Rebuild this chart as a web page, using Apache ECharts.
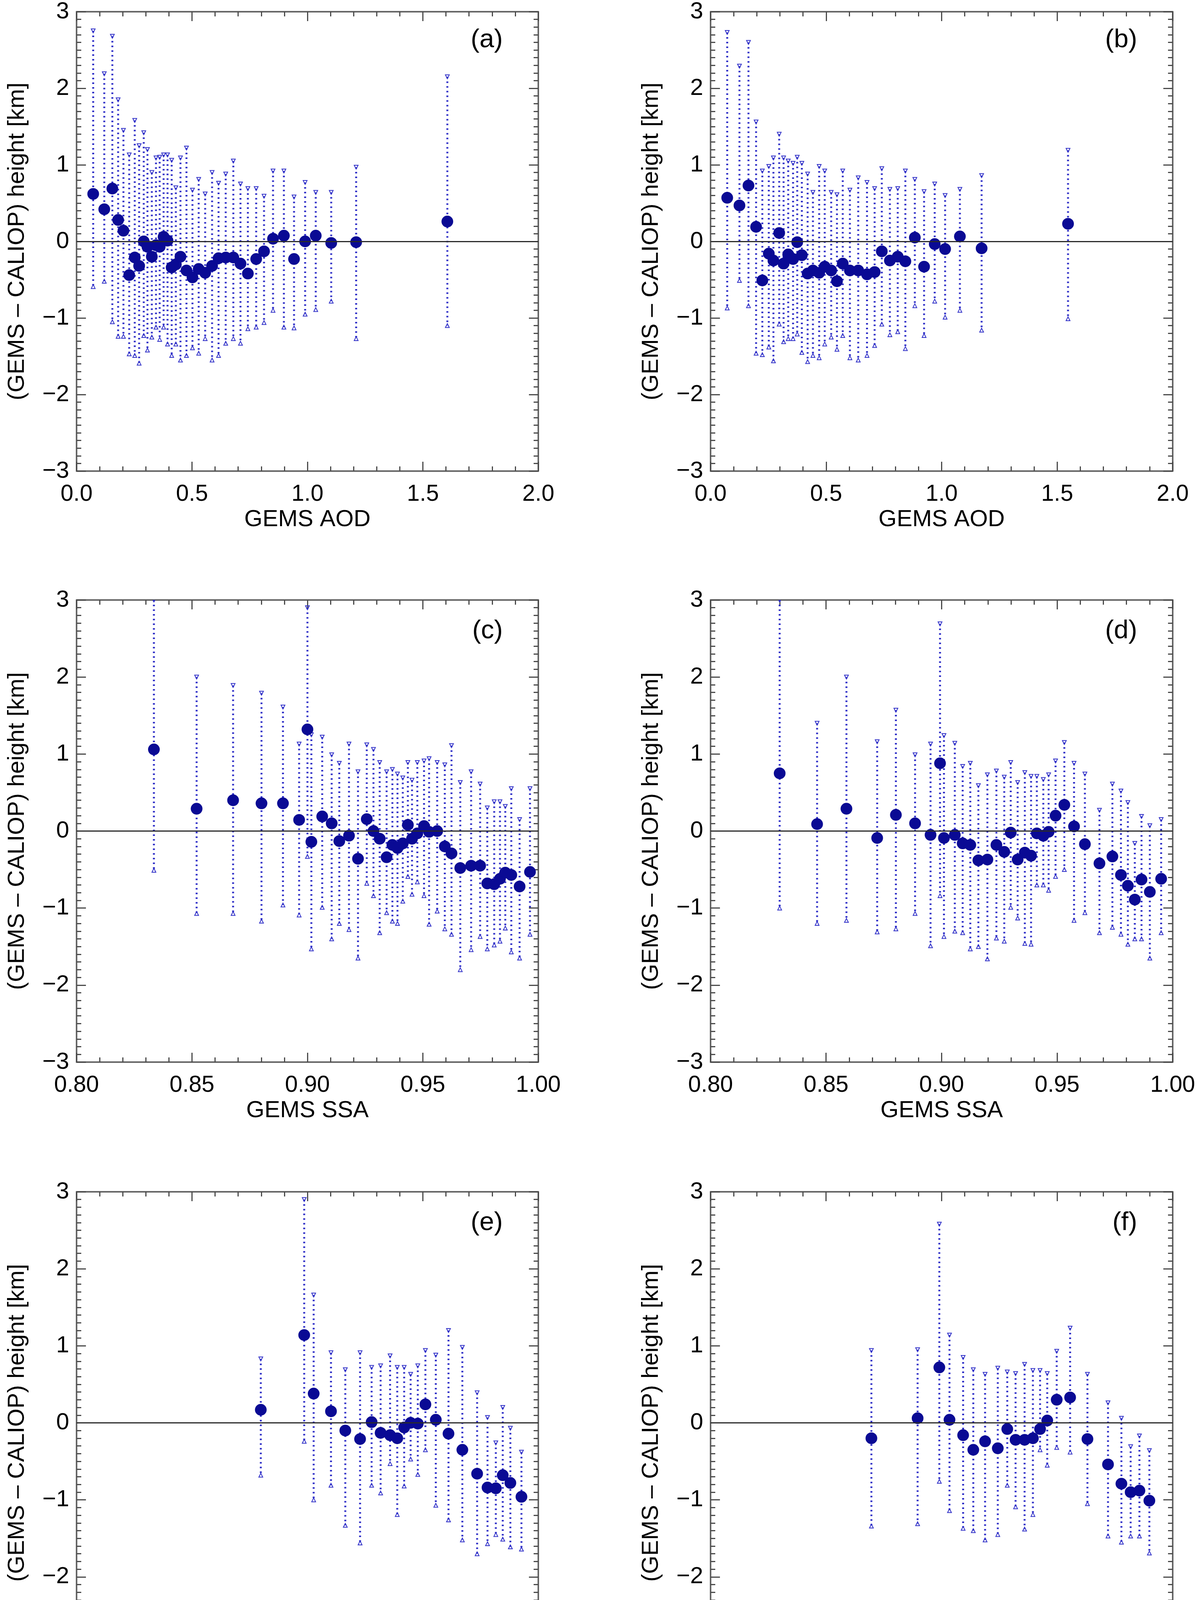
<!DOCTYPE html>
<html>
<head>
<meta charset="utf-8">
<script src="https://cdn.jsdelivr.net/npm/echarts@6/dist/echarts.min.js"></script>
<style>
html,body{margin:0;padding:0;background:#fff;}
#chart{width:3077px;height:4403px;}
</style>
</head>
<body>
<div id="chart"></div>
<script>
// ---------------- DATA ----------------
// Panel (a): GEMS AOD
var aodA_x    = [0.072,0.12,0.155,0.18,0.203,0.228,0.252,0.271,0.291,0.307,0.326,0.344,0.36,0.377,0.394,0.412,0.43,0.45,0.476,0.502,0.529,0.557,0.587,0.615,0.646,0.679,0.71,0.742,0.778,0.812,0.851,0.898,0.942,0.99,1.036,1.103,1.211,1.606];
var aodA_mean = [0.62,0.42,0.69,0.28,0.14,-0.44,-0.21,-0.32,0.0,-0.07,-0.2,-0.05,-0.07,0.06,0.01,-0.34,-0.3,-0.2,-0.38,-0.47,-0.36,-0.41,-0.32,-0.22,-0.21,-0.21,-0.29,-0.42,-0.23,-0.13,0.035,0.075,-0.23,0.0,0.075,-0.02,-0.01,0.26];
var aodA_hi   = [2.75,2.19,2.68,1.85,1.45,1.13,1.58,1.25,1.42,1.2,0.9,1.09,1.1,1.13,1.13,1.06,0.7,1.09,1.22,0.67,0.81,0.62,0.9,0.76,0.88,1.05,0.75,0.69,0.69,0.59,0.92,0.92,0.58,0.77,0.64,0.64,0.97,2.15];
var aodA_lo   = [-0.59,-0.52,-1.05,-1.24,-1.24,-1.47,-1.49,-1.59,-1.23,-1.42,-1.25,-1.12,-1.28,-1.12,-1.34,-1.49,-1.34,-1.55,-1.49,-1.39,-1.46,-1.27,-1.55,-1.49,-1.33,-1.27,-1.33,-1.14,-1.12,-1.06,-0.9,-1.12,-1.13,-0.95,-0.89,-0.78,-1.27,-1.1];

// Panel (b): GEMS AOD
var aodB_x    = [0.072,0.125,0.164,0.197,0.224,0.252,0.272,0.297,0.316,0.336,0.357,0.375,0.395,0.42,0.443,0.47,0.494,0.522,0.547,0.572,0.603,0.639,0.677,0.71,0.741,0.776,0.81,0.843,0.884,0.924,0.97,1.015,1.079,1.173,1.547];
var aodB_mean = [0.57,0.47,0.73,0.19,-0.51,-0.16,-0.25,0.11,-0.29,-0.17,-0.23,-0.01,-0.18,-0.42,-0.38,-0.41,-0.33,-0.38,-0.52,-0.29,-0.38,-0.38,-0.43,-0.4,-0.13,-0.25,-0.2,-0.26,0.05,-0.33,-0.035,-0.1,0.065,-0.09,0.23];
var aodB_hi   = [2.73,2.29,2.6,1.56,0.92,0.98,1.09,1.4,1.09,1.05,1.02,1.1,1.02,0.88,0.64,0.98,0.92,0.64,0.61,0.92,0.67,0.83,0.77,0.69,0.95,0.68,0.69,0.92,0.81,0.65,0.75,0.6,0.68,0.86,1.19];
var aodB_lo   = [-0.87,-0.51,-0.84,-1.46,-1.48,-1.38,-1.56,-1.08,-1.31,-1.27,-1.27,-1.21,-1.45,-1.57,-1.49,-1.52,-1.34,-1.25,-1.41,-1.23,-1.52,-1.55,-1.49,-1.36,-1.08,-1.22,-1.18,-1.4,-0.84,-1.23,-0.78,-0.99,-0.9,-1.16,-1.01];

// Panel (c): GEMS SSA
var ssaC_x    = [0.8335,0.852,0.8678,0.8801,0.8894,0.8964,0.9,0.9017,0.9064,0.9105,0.9138,0.918,0.9219,0.9257,0.9286,0.9313,0.9343,0.9368,0.939,0.9413,0.9435,0.9453,0.9476,0.9505,0.9527,0.9562,0.9595,0.9624,0.9662,0.9709,0.9748,0.9779,0.9809,0.9834,0.9857,0.9883,0.9919,0.9964];
var ssaC_mean = [1.06,0.29,0.40,0.36,0.36,0.145,1.32,-0.14,0.19,0.1,-0.13,-0.06,-0.36,0.155,0.0,-0.1,-0.34,-0.18,-0.22,-0.16,0.08,-0.1,-0.03,0.065,-0.01,0.0,-0.2,-0.29,-0.48,-0.45,-0.45,-0.68,-0.69,-0.62,-0.54,-0.57,-0.72,-0.53];
var ssaC_hi   = [3.0,2.0,1.89,1.79,1.61,1.13,2.9,1.25,1.22,0.99,0.88,1.13,0.77,1.12,1.06,0.89,0.77,0.8,0.74,0.69,0.89,0.66,0.89,0.91,0.94,0.89,0.86,1.11,0.63,0.77,0.61,0.3,0.38,0.38,0.32,0.55,0.15,0.55];
var ssaC_lo   = [-0.51,-1.07,-1.07,-1.17,-0.96,-1.09,-0.33,-1.53,-0.99,-1.4,-1.2,-1.28,-1.65,-0.68,-0.84,-1.32,-1.06,-1.17,-1.2,-0.91,-0.59,-0.82,-0.66,-0.84,-1.21,-1.04,-1.27,-1.34,-1.8,-1.54,-1.37,-1.53,-1.48,-1.43,-1.26,-1.57,-1.65,-1.34];

// Panel (d): GEMS SSA
var ssaD_x    = [0.8299,0.8461,0.8588,0.8721,0.8802,0.8885,0.8952,0.8993,0.901,0.9057,0.9091,0.9124,0.9159,0.9198,0.9237,0.9271,0.9299,0.9329,0.936,0.9387,0.9412,0.944,0.9463,0.9493,0.9531,0.9573,0.962,0.9683,0.9739,0.9776,0.9806,0.9836,0.9865,0.9901,0.995];
var ssaD_mean = [0.75,0.09,0.29,-0.09,0.21,0.1,-0.05,0.88,-0.09,-0.05,-0.16,-0.18,-0.38,-0.37,-0.18,-0.27,-0.02,-0.37,-0.28,-0.32,-0.03,-0.06,-0.01,0.2,0.34,0.06,-0.17,-0.42,-0.33,-0.57,-0.71,-0.89,-0.63,-0.79,-0.62];
var ssaD_hi   = [3.0,1.4,2.0,1.16,1.57,0.99,1.13,2.69,1.24,1.14,0.84,0.88,0.59,0.73,0.78,0.7,0.89,0.63,0.76,0.71,0.71,0.67,0.73,0.91,1.15,0.88,0.74,0.27,0.61,0.52,0.37,-0.16,0.19,0.07,0.15];
var ssaD_lo   = [-1.0,-1.2,-1.16,-1.31,-1.27,-1.07,-1.49,-0.84,-1.37,-1.3,-1.32,-1.53,-1.5,-1.66,-1.39,-1.43,-0.99,-1.13,-1.46,-1.47,-0.7,-0.7,-0.77,-0.59,-0.5,-1.16,-1.06,-1.32,-1.25,-1.34,-1.47,-1.4,-1.4,-1.65,-1.32];

// Panel (e): GEMS SSA, AOD > 0.4
var ssaE_x    = [0.8798,0.8986,0.9027,0.9102,0.9164,0.9228,0.9278,0.9317,0.9358,0.9389,0.9419,0.9447,0.9478,0.9511,0.9556,0.9611,0.9671,0.9735,0.978,0.9816,0.9846,0.9879,0.9927];
var ssaE_mean = [0.17,1.14,0.38,0.15,-0.1,-0.21,0.01,-0.13,-0.16,-0.2,-0.06,0.0,-0.01,0.24,0.04,-0.14,-0.35,-0.66,-0.84,-0.85,-0.68,-0.78,-0.96];
var ssaE_hi   = [0.83,2.9,1.66,0.91,0.69,0.91,0.72,0.74,0.87,0.72,0.72,0.63,0.74,0.94,0.88,1.2,0.98,0.39,0.07,-0.26,0.2,-0.07,-0.38];
var ssaE_lo   = [-0.68,-0.24,-1.0,-0.81,-1.33,-1.56,-0.81,-0.91,-0.53,-1.19,-0.82,-0.47,-0.67,-0.35,-1.07,-1.26,-1.52,-1.7,-1.57,-1.45,-1.51,-1.61,-1.64];

// Panel (f): GEMS SSA, AOD > 0.4
var ssaF_x    = [0.8696,0.8896,0.899,0.9034,0.9093,0.9137,0.9188,0.9243,0.9284,0.932,0.9359,0.9395,0.9426,0.9457,0.9498,0.9556,0.9631,0.972,0.9778,0.9818,0.9856,0.9899];
var ssaF_mean = [-0.2,0.06,0.72,0.04,-0.16,-0.35,-0.24,-0.33,-0.08,-0.22,-0.22,-0.2,-0.08,0.03,0.3,0.33,-0.21,-0.54,-0.79,-0.9,-0.88,-1.01];
var ssaF_hi   = [0.94,0.95,2.58,1.14,0.85,0.69,0.63,0.71,0.66,0.64,0.76,0.68,0.68,0.64,0.93,1.23,0.63,0.26,0.06,-0.31,-0.17,-0.36];
var ssaF_lo   = [-1.34,-1.31,-0.76,-1.14,-1.37,-1.4,-1.52,-1.45,-0.81,-1.09,-1.38,-1.19,-0.35,-0.55,-0.32,-0.38,-1.05,-1.47,-1.55,-1.47,-1.47,-1.69];

// Tick labels / text
var yTicks = [-3,-2,-1,0,1,2,3];
var yAxisTitle = '(GEMS \u2013 CALIOP) height [km]';
var panelLetters = ['(a)','(b)','(c)','(d)','(e)','(f)'];
var xTitles = ['GEMS AOD','GEMS AOD','GEMS SSA','GEMS SSA','GEMS SSA','GEMS SSA'];
var noteText = 'GEMS AOD > 0.4';

// ---------------- LAYOUT ----------------
var FONT = 'Liberation Sans, Arial, Helvetica, sans-serif';
var colLeft = [196, 1819];
var colWidth = [1182, 1183];
var rowTop = [23, 1536, 3051];
var rowHeight = [1183, 1183, 1183];

var panels = [
  {x:aodA_x, m:aodA_mean, lo:aodA_lo, hi:aodA_hi, kind:'aod'},
  {x:aodB_x, m:aodB_mean, lo:aodB_lo, hi:aodB_hi, kind:'aod'},
  {x:ssaC_x, m:ssaC_mean, lo:ssaC_lo, hi:ssaC_hi, kind:'ssa'},
  {x:ssaD_x, m:ssaD_mean, lo:ssaD_lo, hi:ssaD_hi, kind:'ssa'},
  {x:ssaE_x, m:ssaE_mean, lo:ssaE_lo, hi:ssaE_hi, kind:'ssa', note:true},
  {x:ssaF_x, m:ssaF_mean, lo:ssaF_lo, hi:ssaF_hi, kind:'ssa', note:true}
];

var AXIS_COLOR = '#666666';
var TICK_COLOR = '#4a4a4a';
var BAR_COLOR = '#3030c8';
var DOT_COLOR = '#0a0a94';

var grids = [], xAxes = [], yAxes = [], series = [], graphics = [];

function yFmt(v){ v = Math.round(v); return v < 0 ? '\u2212' + Math.abs(v) : String(v); }

function errRender(params, api){
  var x = api.value(0), lo = api.value(1), hi = api.value(2);
  var pt = api.coord([x, hi]);
  var pb = api.coord([x, lo]);
  var s = 5;
  return {
    type: 'group',
    children: [
      {type:'line', shape:{x1:pt[0], y1:pt[1], x2:pb[0], y2:pb[1]},
       style:{stroke:BAR_COLOR, lineWidth:5, lineDash:[4,8], fill:null}},
      {type:'polygon', shape:{points:[[pt[0]-s, pt[1]-s],[pt[0]+s, pt[1]-s],[pt[0], pt[1]+s]]},
       style:{stroke:BAR_COLOR, lineWidth:2, fill:'none'}},
      {type:'polygon', shape:{points:[[pb[0]-s, pb[1]+s],[pb[0]+s, pb[1]+s],[pb[0], pb[1]-s]]},
       style:{stroke:BAR_COLOR, lineWidth:2, fill:'none'}}
    ]
  };
}

panels.forEach(function(p, i){
  var col = i % 2, row = Math.floor(i / 2);
  var gl = colLeft[col], gw = colWidth[col], gt = rowTop[row], gh = rowHeight[row];
  grids.push({left:gl, top:gt, width:gw, height:gh, show:false, containLabel:false});

  var isAod = p.kind === 'aod';
  var xmin = isAod ? 0 : 0.8, xmax = isAod ? 2 : 1.0, xint = isAod ? 0.5 : 0.05;
  var xfmt = function(v){ return isAod ? v.toFixed(1) : v.toFixed(2); };

  var lineStyle = {color:AXIS_COLOR, width:4};
  var tick = {show:true, inside:true, length:24, lineStyle:{color:TICK_COLOR, width:3}};
  var minorX = {show:true, splitNumber:5, length:12, lineStyle:{color:TICK_COLOR, width:3}};
  var minorY = {show:true, splitNumber:10, length:12, lineStyle:{color:TICK_COLOR, width:3}};

  // bottom x
  xAxes.push({
    gridIndex:i, type:'value', position:'bottom', min:xmin, max:xmax, interval:xint,
    axisLine:{show:true, onZero:false, lineStyle:lineStyle},
    axisTick:tick, minorTick:minorX, splitLine:{show:false}, minorSplitLine:{show:false},
    axisLabel:{show:true, margin:30, fontSize:59, color:'#000', fontFamily:FONT, formatter:xfmt},
    name:xTitles[i], nameLocation:'middle', nameGap:94,
    nameTextStyle:{fontSize:60, color:'#000', fontFamily:FONT}
  });
  // top x (ticks only)
  xAxes.push({
    gridIndex:i, type:'value', position:'top', min:xmin, max:xmax, interval:xint,
    axisLine:{show:true, onZero:false, lineStyle:lineStyle},
    axisTick:tick, minorTick:minorX, splitLine:{show:false}, minorSplitLine:{show:false},
    axisLabel:{show:false}
  });
  // left y
  yAxes.push({
    gridIndex:i, type:'value', position:'left', min:-3, max:3, interval:1,
    axisLine:{show:true, onZero:false, lineStyle:lineStyle},
    axisTick:tick, minorTick:minorY, splitLine:{show:false}, minorSplitLine:{show:false},
    axisLabel:{show:true, margin:19, fontSize:60, color:'#000', fontFamily:FONT, formatter:yFmt},
    name:yAxisTitle, nameLocation:'middle', nameGap:122, nameRotate:90,
    nameTextStyle:{fontSize:60, color:'#000', fontFamily:FONT}
  });
  // right y (ticks only)
  yAxes.push({
    gridIndex:i, type:'value', position:'right', min:-3, max:3, interval:1,
    axisLine:{show:true, onZero:false, lineStyle:lineStyle},
    axisTick:tick, minorTick:minorY, splitLine:{show:false}, minorSplitLine:{show:false},
    axisLabel:{show:false}
  });

  var errData = p.x.map(function(x, k){ return [x, p.lo[k], p.hi[k]]; });
  var ptData = p.x.map(function(x, k){ return [x, p.m[k]]; });

  series.push({
    type:'custom', xAxisIndex:2*i, yAxisIndex:2*i, data:errData,
    renderItem:errRender, silent:true, animation:false, clip:true, z:2
  });
  series.push({
    type:'scatter', xAxisIndex:2*i, yAxisIndex:2*i, data:ptData,
    symbol:'circle', symbolSize:30, itemStyle:{color:DOT_COLOR, opacity:1},
    silent:true, animation:false, z:4,
    markLine:{
      silent:true, symbol:'none', animation:false,
      data:[{yAxis:0}],
      lineStyle:{color:'#2a2a2a', width:3, type:'solid'},
      label:{show:false}
    }
  });

  graphics.push({
    type:'text', x:gl + gw - 91, y:gt + 80,
    style:{text:panelLetters[i], fontSize:67, fontFamily:FONT, fill:'#000',
           textAlign:'right', textVerticalAlign:'middle', align:'right', verticalAlign:'middle'}
  });
  if (p.note) {
    graphics.push({
      type:'text', x:gl + 58, y:gt + 1070,
      style:{text:noteText, fontSize:55, fontFamily:FONT, fill:'#000',
             textAlign:'left', textVerticalAlign:'middle', align:'left', verticalAlign:'middle'}
    });
  }
});

var chart = echarts.init(document.getElementById('chart'), null, {renderer:'canvas', width:3077, height:4403});
chart.setOption({
  backgroundColor:'#ffffff',
  animation:false,
  grid:grids,
  xAxis:xAxes,
  yAxis:yAxes,
  series:series,
  graphic:graphics
});
</script>
</body>
</html>
